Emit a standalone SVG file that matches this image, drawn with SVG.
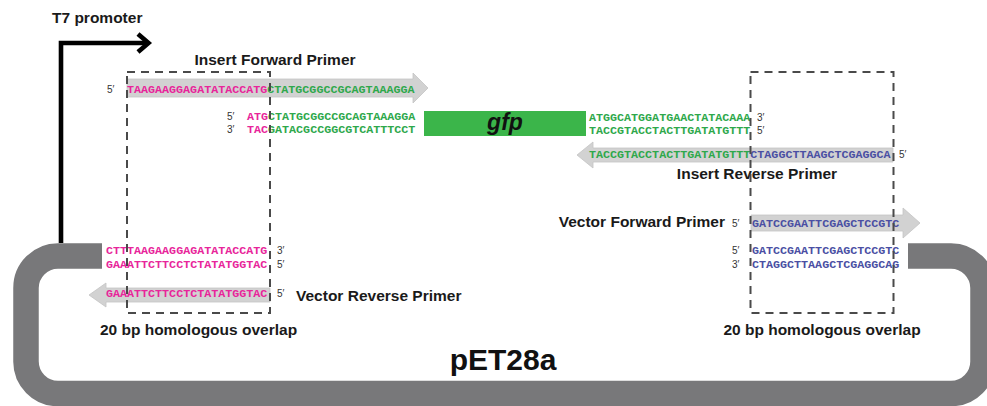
<svg xmlns="http://www.w3.org/2000/svg" width="987" height="406" viewBox="0 0 987 406">
<style>
.lbl{font-family:"Liberation Sans",Arial,sans-serif;font-weight:bold;font-size:15.5px;fill:#1a1a1a}
.end{font-family:"Liberation Sans",Arial,sans-serif;font-size:10px;fill:#333}
.seq{font-family:"Liberation Mono","Courier New",monospace;font-weight:bold;font-size:11.7px}
.m{fill:#e8259a}.g{fill:#2ea84b}.b{fill:#4a4fa3}
.prim{fill:#d2d2d2;stroke:#c4c4c4;stroke-width:0.8}
.box{fill:none;stroke:#4a4a4a;stroke-width:2;stroke-dasharray:8 6}
</style>
<rect width="987" height="406" fill="#fff"/>
<g id="plasmid">
<path d="M102,256 H58 A32,32 0 0 0 26,288 V361 A32,32 0 0 0 58,393.5 H951 A32,32 0 0 0 983,361 V288 A32,32 0 0 0 951,256 H908" fill="none" stroke="#78787a" stroke-width="25.5"/>
<text x="503" y="370" text-anchor="middle" style="font-family:'Liberation Sans',Arial,sans-serif;font-weight:bold;font-size:30px;fill:#111">pET28a</text>
</g>
<g id="connectors">
<polyline points="61,243 61,43 146,43" fill="none" stroke="#000" stroke-width="4.6"/>
<polyline points="138,34 148.5,43 138,52" fill="none" stroke="#000" stroke-width="4.6"/>
</g>
<g id="t7-promoter">
<text class="lbl" x="52" y="23">T7 promoter</text>
</g>
<g id="insert-forward-primer">
<polygon class="prim" points="127,79 413,79 413,73 428,88 413,103 413,97 127,97"/>
<text class="end" x="107" y="93">5′</text>
<text class="seq" x="127" y="93"><tspan class="m">TAAGAAGGAGATATACCATG</tspan><tspan class="g">CTATGCGGCCGCAGTAAAGGA</tspan></text>
<text class="lbl" x="275" y="65" text-anchor="middle">Insert Forward Primer</text>
</g>
<g id="gfp-insert">
<text class="end" x="227" y="120">5′</text>
<text class="end" x="227" y="133">3′</text>
<text class="seq" x="247" y="120"><tspan class="m">ATG</tspan><tspan class="g">CTATGCGGCCGCAGTAAAGGA</tspan></text>
<text class="seq" x="247" y="133"><tspan class="m">TAC</tspan><tspan class="g">GATACGCCGGCGTCATTTCCT</tspan></text>
<rect x="424" y="111" width="162" height="25" fill="#3bb54a"/>
<text x="505" y="130" text-anchor="middle" style="font-family:'Liberation Sans',Arial,sans-serif;font-weight:bold;font-style:italic;font-size:23px;fill:#111">gfp</text>
<text class="seq g" x="589" y="121">ATGGCATGGATGAACTATACAAA</text>
<text class="seq g" x="589" y="134">TACCGTACCTACTTGATATGTTT</text>
<text class="end" x="757" y="121">3′</text>
<text class="end" x="757" y="134">5′</text>
</g>
<g id="insert-reverse-primer">
<polygon class="prim" points="893,148 593,148 593,142 577,155 593,168 593,162 893,162"/>
<text class="seq" x="589" y="158"><tspan class="g">TACCGTACCTACTTGATATGTTT</tspan><tspan class="b">CTAGGCTTAAGCTCGAGGCA</tspan></text>
<text class="end" x="899" y="158">5′</text>
<text class="lbl" x="757" y="179" text-anchor="middle">Insert Reverse Primer</text>
</g>
<g id="vector-forward-primer">
<polygon class="prim" points="751,215 903,215 903,208 920,223 903,238 903,231 751,231"/>
<text class="lbl" x="725" y="227" text-anchor="end">Vector Forward Primer</text>
<text class="end" x="732" y="227">5′</text>
<text class="seq b" x="752" y="227">GATCCGAATTCGAGCTCCGTC</text>
</g>
<g id="vector-right-end">
<text class="end" x="732" y="253.5">5′</text>
<text class="end" x="732" y="268">3′</text>
<text class="seq b" x="752" y="253.5">GATCCGAATTCGAGCTCCGTC</text>
<text class="seq b" x="752" y="268">CTAGGCTTAAGCTCGAGGCAG</text>
</g>
<g id="vector-left-end">
<text class="seq m" x="106" y="254">CTTTAAGAAGGAGATATACCATG</text>
<text class="seq m" x="106" y="267.5">GAAATTCTTCCTCTATATGGTAC</text>
<text class="end" x="277" y="254">3′</text>
<text class="end" x="277" y="267.5">5′</text>
</g>
<g id="vector-reverse-primer">
<polygon class="prim" points="270,288 106,288 106,283 89,295 106,307 106,302 270,302"/>
<text class="seq m" x="106" y="297">GAAATTCTTCCTCTATATGGTAC</text>
<text class="end" x="277" y="297">5′</text>
<text class="lbl" x="296" y="301">Vector Reverse Primer</text>
</g>
<g id="overlap-left">
<rect class="box" x="127" y="72" width="143" height="241"/>
<text class="lbl" x="198.5" y="335" text-anchor="middle">20 bp homologous overlap</text>
</g>
<g id="overlap-right">
<rect class="box" x="750.5" y="72" width="143" height="241"/>
<text class="lbl" x="822" y="335" text-anchor="middle">20 bp homologous overlap</text>
</g>
</svg>
